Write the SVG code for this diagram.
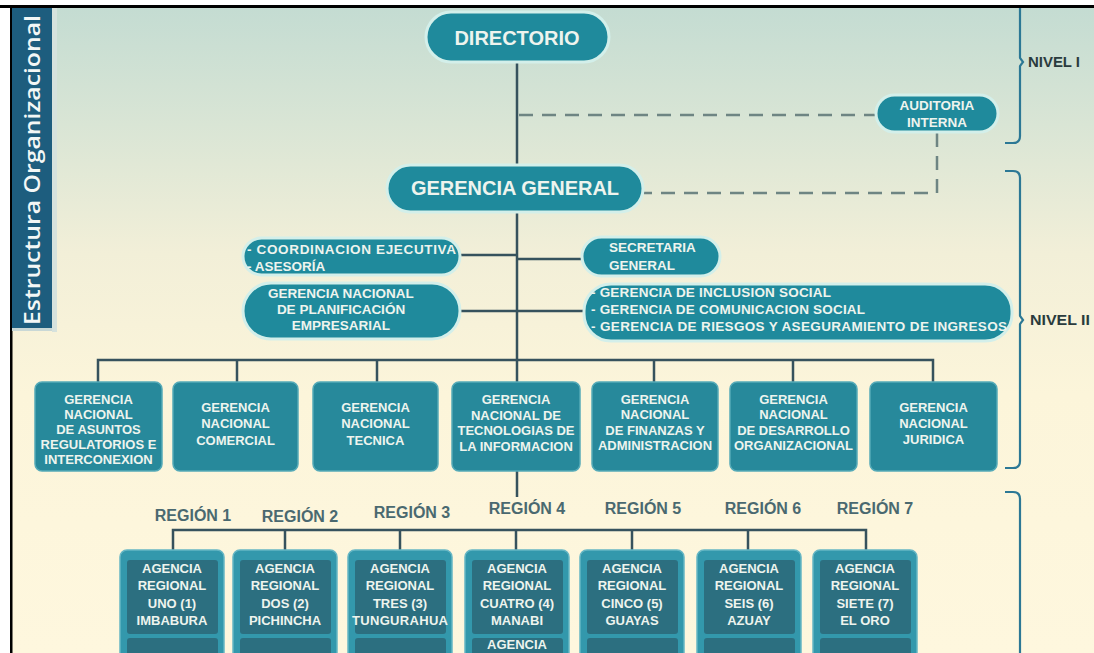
<svg xmlns="http://www.w3.org/2000/svg" width="1094" height="653" viewBox="0 0 1094 653">
  <defs>
    <linearGradient id="bg" x1="0" y1="0" x2="0" y2="1">
      <stop offset="0" stop-color="#c4dcd2"/>
      <stop offset="0.18" stop-color="#d9e5d5"/>
      <stop offset="0.38" stop-color="#f2efd8"/>
      <stop offset="0.6" stop-color="#fcf5da"/>
      <stop offset="1" stop-color="#fef7de"/>
    </linearGradient>
    <clipPath id="bandClip">
      <rect x="12" y="8" width="40" height="322"/>
    </clipPath>
    <style>
      .pill { fill: #1f8a9c; stroke: #d3efea; stroke-width: 3; }
      .box { fill: #27899b; stroke: #55aab8; stroke-width: 1.5; }
      .agency { fill: #3398ac; stroke: #66b6c4; stroke-width: 1.5; }
      .inner { fill: #2c6f80; }
      .t { font-family: "Liberation Sans", Arial, sans-serif; font-weight: bold; fill: #eef4ee; text-anchor: middle; }
      .big { font-size: 20px; }
      .mid { font-size: 13.5px; }
      .sm { font-size: 13px; }
      .left { text-anchor: start; }
      .region { font-family: "Liberation Sans", Arial, sans-serif; font-weight: bold; font-size: 16px; fill: #4a6970; text-anchor: middle; }
      .level { font-family: "Liberation Sans", Arial, sans-serif; font-weight: bold; font-size: 14px; fill: #2a3b3d; }
      .line { stroke: #36525d; stroke-width: 2.5; fill: none; }
      .dash { stroke: #6e8583; stroke-width: 2.5; stroke-dasharray: 14 9; fill: none; }
      .bracket { stroke: #2c7895; stroke-width: 2.2; fill: none; }
    </style>
  </defs>

  <!-- page and frame -->
  <rect x="0" y="0" width="1094" height="653" fill="#ffffff"/>
  <rect x="12" y="8" width="1082" height="645" fill="url(#bg)"/>
  <rect x="0" y="5" width="1094" height="3" fill="#000000"/>
  <rect x="10" y="5" width="2.5" height="648" fill="#000000"/>

  <!-- vertical title band -->
  <g id="title-band">
    <rect x="52" y="8" width="5" height="324" fill="#d6e2dd"/>
    <rect x="12" y="8" width="40" height="322" fill="#1d5d7e"/>
    <rect x="12" y="328" width="40" height="3" fill="#c9d8d6"/>
    <g clip-path="url(#bandClip)">
      <text transform="translate(40,325) rotate(-90)" font-family="'Open Sans', 'Liberation Sans', sans-serif" font-weight="600" font-size="22" fill="#f3f7f6" textLength="310" lengthAdjust="spacingAndGlyphs">Estructura Organizacional</text>
    </g>
  </g>

  <!-- level brackets -->
  <g id="levels">
    <path class="bracket" d="M1020 8 V58 l3 4 l-3 4 V136 q0 7 -7 7 H1005"/>
    <text class="level" x="1028" y="67" textLength="52" lengthAdjust="spacingAndGlyphs">NIVEL I</text>
    <path class="bracket" d="M1005 171 H1013 q7 0 7 7 V316 l3 4 l-3 4 V461 q0 7 -7 7 H1005"/>
    <text class="level" x="1030" y="325" textLength="60" lengthAdjust="spacingAndGlyphs">NIVEL II</text>
    <path class="bracket" d="M1005 492 H1013 q7 0 7 7 V653"/>
  </g>

  <!-- connectors -->
  <g id="connectors">
    <line class="line" x1="517" y1="62" x2="517" y2="497"/>
    <path class="dash" d="M519 115 H876"/>
    <path class="dash" d="M937 133 V193 H644"/>
    <line class="line" x1="460" y1="255" x2="517" y2="255"/>
    <line class="line" x1="460" y1="311" x2="517" y2="311"/>
    <line class="line" x1="517" y1="259" x2="583" y2="259"/>
    <line class="line" x1="517" y1="311" x2="584" y2="311"/>
    <path class="line" d="M98 382 V360 H933 V382"/>
    <line class="line" x1="237" y1="360" x2="237" y2="382"/>
    <line class="line" x1="377" y1="360" x2="377" y2="382"/>
    <line class="line" x1="654" y1="360" x2="654" y2="382"/>
    <line class="line" x1="793" y1="360" x2="793" y2="382"/>
    <path class="line" d="M173 550 V530 H866 V550"/>
    <line class="line" x1="285" y1="530" x2="285" y2="550"/>
    <line class="line" x1="400" y1="530" x2="400" y2="550"/>
    <line class="line" x1="516" y1="530" x2="516" y2="550"/>
    <line class="line" x1="632" y1="530" x2="632" y2="550"/>
    <line class="line" x1="748" y1="530" x2="748" y2="550"/>
  </g>

  <!-- level I -->
  <g id="directorio">
    <rect class="pill" x="426" y="12" width="183" height="50" rx="25"/>
    <text class="t big" x="517" y="45">DIRECTORIO</text>
  </g>
  <g id="auditoria-interna">
    <rect class="pill" x="876" y="95" width="122" height="37" rx="18.5"/>
    <text class="t mid" x="937" y="110">AUDITORIA</text>
    <text class="t mid" x="937" y="127">INTERNA</text>
  </g>

  <!-- level II -->
  <g id="gerencia-general">
    <rect class="pill" x="387" y="165" width="256" height="47" rx="23.5"/>
    <text class="t big" x="515" y="195">GERENCIA GENERAL</text>
  </g>
  <g id="coordinacion-asesoria">
    <rect class="pill" x="243" y="238" width="217" height="37" rx="18.5"/>
    <text class="t mid left" x="247" y="254" textLength="209">- COORDINACION EJECUTIVA</text>
    <text class="t mid left" x="247" y="271">- ASESORÍA</text>
  </g>
  <g id="planificacion">
    <rect class="pill" x="243" y="283" width="217" height="56" rx="28"/>
    <text class="t mid" x="341" y="298">GERENCIA NACIONAL</text>
    <text class="t mid" x="341" y="314">DE PLANIFICACIÓN</text>
    <text class="t mid" x="341" y="330">EMPRESARIAL</text>
  </g>
  <g id="secretaria-general">
    <rect class="pill" x="582" y="237" width="138" height="39" rx="19.5"/>
    <text class="t mid left" x="609" y="252">SECRETARIA</text>
    <text class="t mid left" x="609" y="270">GENERAL</text>
  </g>
  <g id="gerencias-sociales">
    <rect class="pill" x="584" y="284" width="428" height="57" rx="27"/>
    <text class="t mid left" x="591" y="297" textLength="240">- GERENCIA DE INCLUSION SOCIAL</text>
    <text class="t mid left" x="591" y="314" textLength="274">- GERENCIA DE COMUNICACION SOCIAL</text>
    <text class="t mid left" x="591" y="331" textLength="416">- GERENCIA DE RIESGOS Y ASEGURAMIENTO DE INGRESOS</text>
  </g>

  <!-- national managements -->
  <g id="gn-asuntos-regulatorios">
    <rect class="box" x="35" y="382" width="127" height="89" rx="7"/>
    <text class="t sm" x="98.5" y="403.5">GERENCIA</text>
    <text class="t sm" x="98.5" y="418.5">NACIONAL</text>
    <text class="t sm" x="98.5" y="434">DE ASUNTOS</text>
    <text class="t sm" x="98.5" y="449">REGULATORIOS E</text>
    <text class="t sm" x="98.5" y="464">INTERCONEXION</text>
  </g>
  <g id="gn-comercial">
    <rect class="box" x="173" y="382" width="125" height="89" rx="7"/>
    <text class="t sm" x="235.5" y="411.5">GERENCIA</text>
    <text class="t sm" x="235.5" y="428">NACIONAL</text>
    <text class="t sm" x="235.5" y="444.5">COMERCIAL</text>
  </g>
  <g id="gn-tecnica">
    <rect class="box" x="313" y="382" width="125" height="89" rx="7"/>
    <text class="t sm" x="375.5" y="411.5">GERENCIA</text>
    <text class="t sm" x="375.5" y="428">NACIONAL</text>
    <text class="t sm" x="375.5" y="444.5">TECNICA</text>
  </g>
  <g id="gn-tecnologias">
    <rect class="box" x="452" y="382" width="128" height="89" rx="7"/>
    <text class="t sm" x="516" y="403.5">GERENCIA</text>
    <text class="t sm" x="516" y="419.5">NACIONAL DE</text>
    <text class="t sm" x="516" y="435">TECNOLOGIAS DE</text>
    <text class="t sm" x="516" y="450.5">LA INFORMACION</text>
  </g>
  <g id="gn-finanzas">
    <rect class="box" x="592" y="382" width="126" height="89" rx="7"/>
    <text class="t sm" x="655" y="403.5">GERENCIA</text>
    <text class="t sm" x="655" y="419">NACIONAL</text>
    <text class="t sm" x="655" y="434.5">DE FINANZAS Y</text>
    <text class="t sm" x="655" y="450">ADMINISTRACION</text>
  </g>
  <g id="gn-desarrollo">
    <rect class="box" x="730" y="382" width="127" height="89" rx="7"/>
    <text class="t sm" x="793.5" y="403.5">GERENCIA</text>
    <text class="t sm" x="793.5" y="419">NACIONAL</text>
    <text class="t sm" x="793.5" y="434.5">DE DESARROLLO</text>
    <text class="t sm" x="793.5" y="450">ORGANIZACIONAL</text>
  </g>
  <g id="gn-juridica">
    <rect class="box" x="870" y="382" width="127" height="89" rx="7"/>
    <text class="t sm" x="933.5" y="411.5">GERENCIA</text>
    <text class="t sm" x="933.5" y="428">NACIONAL</text>
    <text class="t sm" x="933.5" y="444">JURIDICA</text>
  </g>

  <!-- region labels -->
  <g id="regions">
    <text class="region" x="193" y="521">REGIÓN 1</text>
    <text class="region" x="300" y="522">REGIÓN 2</text>
    <text class="region" x="412" y="518">REGIÓN 3</text>
    <text class="region" x="527" y="514">REGIÓN 4</text>
    <text class="region" x="643" y="514">REGIÓN 5</text>
    <text class="region" x="763" y="514">REGIÓN 6</text>
    <text class="region" x="875" y="514">REGIÓN 7</text>
  </g>

  <!-- regional agencies -->
  <g id="agencia-1">
    <rect class="agency" x="120" y="550" width="104" height="112" rx="7"/>
    <rect class="inner" x="127" y="560" width="91" height="74" rx="3"/>
    <rect class="inner" x="127" y="638" width="91" height="20" rx="3"/>
    <text class="t sm" x="172" y="572.5">AGENCIA</text>
    <text class="t sm" x="172" y="589.5">REGIONAL</text>
    <text class="t sm" x="172" y="607.5">UNO (1)</text>
    <text class="t sm" x="172" y="624.5">IMBABURA</text>
  </g>
  <g id="agencia-2">
    <rect class="agency" x="233" y="550" width="104" height="112" rx="7"/>
    <rect class="inner" x="240" y="560" width="91" height="74" rx="3"/>
    <rect class="inner" x="240" y="638" width="91" height="20" rx="3"/>
    <text class="t sm" x="285" y="572.5">AGENCIA</text>
    <text class="t sm" x="285" y="589.5">REGIONAL</text>
    <text class="t sm" x="285" y="607.5">DOS (2)</text>
    <text class="t sm" x="285" y="624.5">PICHINCHA</text>
  </g>
  <g id="agencia-3">
    <rect class="agency" x="348" y="550" width="104" height="112" rx="7"/>
    <rect class="inner" x="355" y="560" width="91" height="74" rx="3"/>
    <rect class="inner" x="355" y="638" width="91" height="20" rx="3"/>
    <text class="t sm" x="400" y="572.5">AGENCIA</text>
    <text class="t sm" x="400" y="589.5">REGIONAL</text>
    <text class="t sm" x="400" y="607.5">TRES (3)</text>
    <text class="t sm" x="400" y="624.5" textLength="96">TUNGURAHUA</text>
  </g>
  <g id="agencia-4">
    <rect class="agency" x="465" y="550" width="104" height="112" rx="7"/>
    <rect class="inner" x="472" y="560" width="91" height="74" rx="3"/>
    <rect class="inner" x="472" y="638" width="91" height="20" rx="3"/>
    <text class="t sm" x="517" y="572.5">AGENCIA</text>
    <text class="t sm" x="517" y="589.5">REGIONAL</text>
    <text class="t sm" x="517" y="607.5">CUATRO (4)</text>
    <text class="t sm" x="517" y="624.5">MANABI</text>
    <text class="t sm" x="517" y="648.5">AGENCIA</text>
  </g>
  <g id="agencia-5">
    <rect class="agency" x="580" y="550" width="104" height="112" rx="7"/>
    <rect class="inner" x="587" y="560" width="91" height="74" rx="3"/>
    <rect class="inner" x="587" y="638" width="91" height="20" rx="3"/>
    <text class="t sm" x="632" y="572.5">AGENCIA</text>
    <text class="t sm" x="632" y="589.5">REGIONAL</text>
    <text class="t sm" x="632" y="607.5">CINCO (5)</text>
    <text class="t sm" x="632" y="624.5">GUAYAS</text>
  </g>
  <g id="agencia-6">
    <rect class="agency" x="697" y="550" width="104" height="112" rx="7"/>
    <rect class="inner" x="704" y="560" width="91" height="74" rx="3"/>
    <rect class="inner" x="704" y="638" width="91" height="20" rx="3"/>
    <text class="t sm" x="749" y="572.5">AGENCIA</text>
    <text class="t sm" x="749" y="589.5">REGIONAL</text>
    <text class="t sm" x="749" y="607.5">SEIS (6)</text>
    <text class="t sm" x="749" y="624.5">AZUAY</text>
  </g>
  <g id="agencia-7">
    <rect class="agency" x="813" y="550" width="104" height="112" rx="7"/>
    <rect class="inner" x="820" y="560" width="91" height="74" rx="3"/>
    <rect class="inner" x="820" y="638" width="91" height="20" rx="3"/>
    <text class="t sm" x="865" y="572.5">AGENCIA</text>
    <text class="t sm" x="865" y="589.5">REGIONAL</text>
    <text class="t sm" x="865" y="607.5">SIETE (7)</text>
    <text class="t sm" x="865" y="624.5">EL ORO</text>
  </g>
</svg>
